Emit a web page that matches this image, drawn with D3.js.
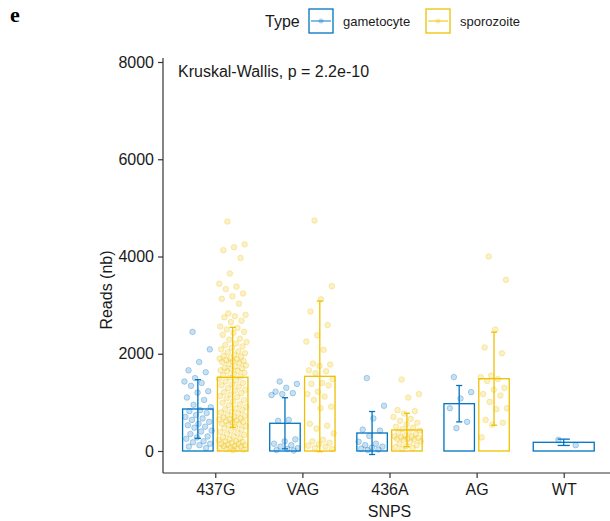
<!DOCTYPE html>
<html>
<head>
<meta charset="utf-8">
<script src="https://cdn.jsdelivr.net/npm/d3@7"></script>
<style>
  body { margin: 0; background: #fff; }
  svg { font-family: "Liberation Sans", Arial, sans-serif; }
</style>
</head>
<body>
<div id="grafico"></div>
<script>
// categorias y tipos
var categorias = ["437G", "VAG", "436A", "AG", "WT"];
var tipos = ["gametocyte", "sporozoite"];
var ticksY = [0, 2000, 4000, 6000, 8000];

// media y desviacion (barras y barras de error), null = sin datos
var mediaGam = [864, 570, 370, 973, 179];
var mediaSpo = [1516, 1536, 432, 1487, null];
var sdGam = [603, 526, 442, 374, 65];
var sdSpo = [1028, 1549, 344, 957, null];

// lecturas individuales por grupo
var gam437G = [2450, 2090, 1830, 1660, 1620, 1500, 1430, 1400, 1340, 1230, 1200, 1100, 1050, 950, 900, 840, 820, 780, 740,
  700, 670, 640, 600, 560, 530, 500, 480, 420, 400, 350, 300, 280, 250, 200, 180, 150, 120, 90, 60];
var spo437G = [4720, 4250, 4190, 4130, 3970, 3650, 3440, 3380, 3330, 3240, 3180, 3130, 3030, 2830, 2800, 2770, 2750, 2680,
  2650, 2560, 2530, 2500, 2450, 2430, 2390, 2310, 2290, 2240, 2210, 2180, 2150, 2120, 2090, 2050, 2030, 2010, 1980, 1960,
  1940, 1910, 1900, 1890, 1870, 1850, 1850, 1830, 1810, 1790, 1760, 1740, 1710, 1700, 1690, 1660, 1650, 1640, 1610, 1580,
  1560, 1530, 1510, 1480, 1450, 1430, 1400, 1370, 1350, 1320, 1290, 1260, 1240, 1210, 1190, 1160, 1130, 1110, 1080, 1050,
  1020, 990, 960, 940, 910, 880, 860, 840, 810, 790, 770, 740, 720, 700, 690, 670, 650, 650, 630, 610, 600, 590, 560, 550,
  540, 510, 490, 470, 440, 420, 390, 370, 350, 330, 300, 280, 260, 240, 220, 200, 200, 190, 170, 150, 150, 130, 120, 100,
  100, 90, 70, 60, 50, 40, 30, 20];
var gamVAG = [1430, 1380, 1300, 1220, 1190, 1170, 1150, 640, 620, 240, 200, 150, 120, 90, 60, 40, 20, 10];
var spoVAG = [4740, 3390, 3120, 2870, 2590, 2380, 2250, 2080, 1800, 1780, 1750, 1660, 1640, 1600, 1480, 1400, 1380, 1350,
  1220, 1170, 1120, 1050, 910, 880, 560, 520, 460, 360, 230, 200, 170, 140, 110, 90, 60, 40];
var gam436A = [1500, 930, 670, 440, 420, 310, 190, 150, 120, 90, 70, 50, 30, 20];
var spo436A = [1470, 1170, 1100, 840, 820, 770, 700, 660, 620, 580, 550, 500, 480, 450, 420, 400, 380, 350, 320, 300, 290,
  280, 270, 260, 250, 240, 230, 200, 180, 150, 120, 100, 80, 60, 40];
var gamAG = [1520, 1210, 1080, 880, 600, 470];
var spoAG = [4000, 3520, 2500, 2130, 2010, 1550, 1520, 1480, 1440, 1300, 1260, 1170, 1140, 1010, 880, 860, 640, 580, 540, 280];
var gamWT = [230, 120];
var spoWT = [];

var puntosGam = [gam437G, gamVAG, gam436A, gamAG, gamWT];
var puntosSpo = [spo437G, spoVAG, spo436A, spoAG, spoWT];

// dimensiones
var ancho = 610, altura = 521;
var colores = d3.scaleOrdinal().domain(tipos).range(["#0073C2", "#EFC000"]);

var svg = d3.select("#grafico")
  .append("svg")
    .attr("width", ancho)
    .attr("height", altura);

// Eje horizontal (x)
var x = d3.scalePoint()
  .domain(categorias)
  .range([163, 616])
  .padding(0.6);
var paso = x.step();

// Eje vertical (y)
var y = d3.scaleLinear()
  .domain([0, 8000])
  .range([451, 62]);
var yBase = 473, yTope = 58;

// tabla de grupos para dibujar
var grupos = [];
categorias.forEach(function(c, i) {
  var hayDos = mediaSpo[i] !== null;
  tipos.forEach(function(t, j) {
    var media = j === 0 ? mediaGam[i] : mediaSpo[i];
    if (media === null) return;
    var w = hayDos ? paso * 0.35 : paso * 0.7;
    var centro = hayDos ? x(c) + (j === 0 ? -0.2 : 0.2) * paso : x(c);
    grupos.push({
      cat: c, tipo: t, media: media,
      sd: j === 0 ? sdGam[i] : sdSpo[i],
      puntos: j === 0 ? puntosGam[i] : puntosSpo[i],
      centro: centro, w: w
    });
  });
});

// barras
svg.append("g").selectAll("rect")
  .data(grupos)
  .enter()
  .append("rect")
    .attr("x", function(d) { return d.centro - d.w / 2; })
    .attr("y", function(d) { return y(d.media); })
    .attr("width", function(d) { return d.w; })
    .attr("height", function(d) { return y(0) - y(d.media); })
    .style("fill", "none")
    .style("stroke", function(d) { return colores(d.tipo); })
    .style("stroke-width", 1.3);

// puntos con jitter determinista
var capaPuntos = svg.append("g");
grupos.forEach(function(g) {
  capaPuntos.selectAll(null)
    .data(g.puntos)
    .enter()
    .append("circle")
      .attr("cx", function(d, i) { return g.centro + (((i * 0.6180339887 + 0.31) % 1) - 0.5) * paso * 0.32; })
      .attr("cy", function(d) { return y(d); })
      .attr("r", 2.8)
      .style("fill", colores(g.tipo))
      .style("fill-opacity", 0.22)
      .style("stroke", colores(g.tipo))
      .style("stroke-opacity", 0.28)
      .style("stroke-width", 1);
});

// barras de error (media +- sd)
var capaError = svg.append("g");
grupos.forEach(function(g) {
  var col = colores(g.tipo);
  var ca = g.w * 0.1;
  capaError.append("line")
    .attr("x1", g.centro).attr("x2", g.centro)
    .attr("y1", y(g.media + g.sd)).attr("y2", y(g.media - g.sd))
    .style("stroke", col).style("stroke-width", 1.3);
  [g.media + g.sd, g.media - g.sd].forEach(function(v) {
    capaError.append("line")
      .attr("x1", g.centro - ca).attr("x2", g.centro + ca)
      .attr("y1", y(v)).attr("y2", y(v))
      .style("stroke", col).style("stroke-width", 1.3);
  });
});

// ejes
var ejeY = svg.append("g")
  .attr("transform", "translate(163,0)")
  .call(d3.axisLeft(y).tickValues(ticksY).tickFormat(d3.format("d")).tickSize(5).tickPadding(4));
ejeY.select(".domain").attr("d", "M0," + yTope + "V" + yBase);

var ejeX = svg.append("g")
  .attr("transform", "translate(0," + yBase + ")")
  .call(d3.axisBottom(x).tickSize(5).tickPadding(6));
ejeX.select(".domain").attr("d", "M163,0H616");

svg.selectAll(".tick text")
  .style("font-size", "16px")
  .style("fill", "#1a1a1a");
svg.selectAll(".domain, .tick line")
  .style("stroke", "#333")
  .style("stroke-width", 1.2);

// titulos de ejes
svg.append("text")
  .attr("x", x("436A"))
  .attr("y", 517)
  .attr("text-anchor", "middle")
  .style("font-size", "16px")
  .style("fill", "#1a1a1a")
  .text("SNPS");

svg.append("text")
  .attr("transform", "translate(112,290) rotate(-90)")
  .attr("text-anchor", "middle")
  .style("font-size", "16px")
  .style("fill", "#1a1a1a")
  .text("Reads (nb)");

// prueba estadistica
svg.append("text")
  .attr("x", 178)
  .attr("y", 77)
  .style("font-size", "16px")
  .style("fill", "#1a1a1a")
  .text("Kruskal-Wallis, p = 2.2e-10");

// etiqueta del panel
svg.append("text")
  .attr("x", 10)
  .attr("y", 22)
  .style("font-family", "'Liberation Serif', serif")
  .style("font-weight", "bold")
  .style("font-size", "22px")
  .text("e");

// leyenda
var leyenda = svg.append("g");
leyenda.append("text")
  .attr("x", 265).attr("y", 27)
  .style("font-size", "16px")
  .style("fill", "#1a1a1a")
  .text("Type");

var posLeyenda = [309, 426];
tipos.forEach(function(t, i) {
  var lx = posLeyenda[i];
  var item = leyenda.append("g").attr("transform", "translate(" + lx + ",9)");
  item.append("rect")
    .attr("width", 24).attr("height", 24)
    .style("fill", "#fff")
    .style("stroke", colores(t))
    .style("stroke-width", 1.3);
  item.append("line")
    .attr("x1", 2).attr("x2", 22).attr("y1", 12).attr("y2", 12)
    .style("stroke", colores(t))
    .style("stroke-opacity", 0.8)
    .style("stroke-width", 1.2);
  item.append("circle")
    .attr("cx", 12).attr("cy", 12).attr("r", 2.5)
    .style("fill", colores(t))
    .style("fill-opacity", 0.3);
  leyenda.append("text")
    .attr("x", lx + 34).attr("y", 26)
    .style("font-size", "13px")
    .style("fill", "#1a1a1a")
    .text(t);
});
</script>
</body>
</html>
